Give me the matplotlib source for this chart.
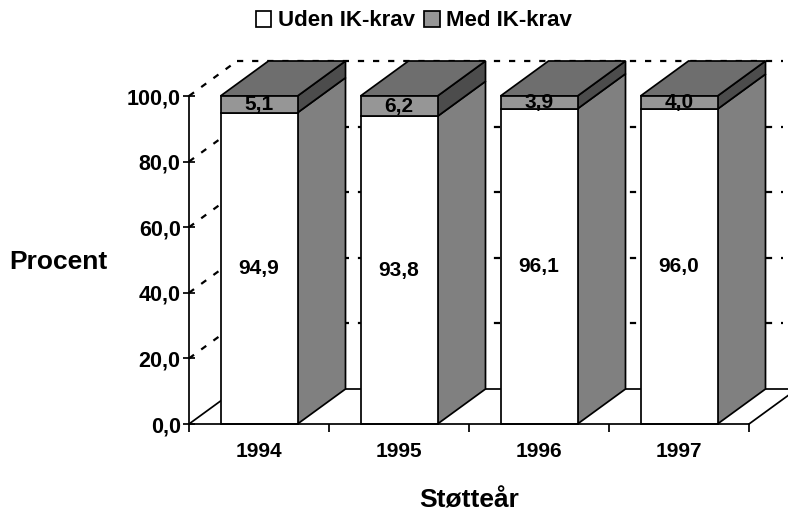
import matplotlib
matplotlib.use("Agg")
import matplotlib.pyplot as plt
from matplotlib.patches import Polygon, Patch

years = ["1994", "1995", "1996", "1997"]
uden = [94.9, 93.8, 96.1, 96.0]
med = [5.1, 6.2, 3.9, 4.0]
uden_labels = ["94,9", "93,8", "96,1", "96,0"]
med_labels = ["5,1", "6,2", "3,9", "4,0"]
yticks = [0, 20, 40, 60, 80, 100]
ytick_labels = ["0,0", "20,0", "40,0", "60,0", "80,0", "100,0"]

plt.rcParams["font.family"] = ["Liberation Sans", "DejaVu Sans"]
plt.rcParams["font.weight"] = "bold"

W, H = 788, 514
fig = plt.figure(figsize=(W / 100, H / 100), dpi=100)
ax = fig.add_axes([189 / W, 1 - 424 / H, 560 / W, 328 / H])
ax.set_xlim(0, 4)
ax.set_ylim(0, 100)

DX = 48 / 140
DY = 35 / 3.28
BW = 77 / 140
LW = 1.25
C_UDEN = "#ffffff"
C_MED = "#969696"
C_TOP = "#6e6e6e"
C_SIDE_MED = "#4c4c4c"
C_SIDE_UDEN = "#808080"
dash = dict(color="black", lw=1.6, dashes=(2.8, 4), clip_on=False, zorder=1)

# Walls and floor
for v in yticks[1:]:
    ax.plot([0, DX], [v, v + DY], **dash)
for v in yticks[1:]:
    ax.plot([DX, 4 + 0.24], [v + DY, v + DY], **dash)
ax.plot([0, DX], [0, DY], color="black", lw=LW, clip_on=False, zorder=1)
ax.plot([DX, 4 + DX], [DY, DY], color="black", lw=LW, clip_on=False, zorder=1)
ax.plot([4, 4 + DX], [0, DY], color="black", lw=LW, clip_on=False, zorder=1)

# Bars
xs = [i + 0.5 for i in range(len(years))]
ax.bar(xs, uden, BW, color=C_UDEN, edgecolor="black", linewidth=LW, zorder=3, clip_on=False)
ax.bar(xs, med, BW, bottom=uden, color=C_MED, edgecolor="black", linewidth=LW, zorder=3, clip_on=False)

for x, u, m in zip(xs, uden, med):
    r = x + BW / 2
    l = x - BW / 2
    t = u + m
    ax.add_patch(Polygon([(r, 0), (r + DX, DY), (r + DX, u + DY), (r, u)], fc=C_SIDE_UDEN, ec="black", lw=LW, zorder=2, clip_on=False))
    ax.add_patch(Polygon([(r, u), (r + DX, u + DY), (r + DX, t + DY), (r, t)], fc=C_SIDE_MED, ec="black", lw=LW, zorder=2, clip_on=False))
    ax.add_patch(Polygon([(l, t), (r, t), (r + DX, t + DY), (l + DX, t + DY)], fc=C_TOP, ec="black", lw=LW, zorder=2, clip_on=False))

# Value labels
for x, u, m, ul, ml in zip(xs, uden, med, uden_labels, med_labels):
    ax.text(x, u / 2, ul, ha="center", va="center", fontsize=15, zorder=5)
    ax.text(x, u + m / 2, ml, ha="center", va="center", fontsize=15, zorder=5)

# Axes
for s in ["top", "right"]:
    ax.spines[s].set_visible(False)
for s in ["left", "bottom"]:
    ax.spines[s].set_linewidth(LW)
    ax.spines[s].set_zorder(4)
ax.set_yticks(yticks)
ax.set_yticklabels(ytick_labels, fontsize=15.5)
ax.tick_params(axis="y", direction="inout", length=8, width=LW, pad=2)
ax.set_xticks(range(5))
ax.set_xticklabels([])
ax.tick_params(axis="x", which="major", direction="out", length=6, width=LW)
ax.set_xticks(xs, minor=True)
ax.set_xticklabels(years, minor=True, fontsize=15)
ax.tick_params(axis="x", which="minor", length=0, pad=13)
ax.patch.set_visible(False)

fig.text(58 / W, 1 - 262 / H, "Procent", ha="center", va="center", fontsize=19)
fig.text(469 / W, 1 - 500 / H, "Støtteår", ha="center", va="center", fontsize=19)

handles = [Patch(fc=C_UDEN, ec="black", lw=LW), Patch(fc=C_MED, ec="black", lw=LW)]
fig.legend(handles, ["Uden IK-krav", "Med IK-krav"], ncols=2, loc="center",
           bbox_to_anchor=(414 / W, 1 - 21 / H), frameon=False, fontsize=16,
           handlelength=0.7, handleheight=0.7, handletextpad=0.3, columnspacing=0.4, borderpad=0)

fig.savefig("out.png", dpi=100)
